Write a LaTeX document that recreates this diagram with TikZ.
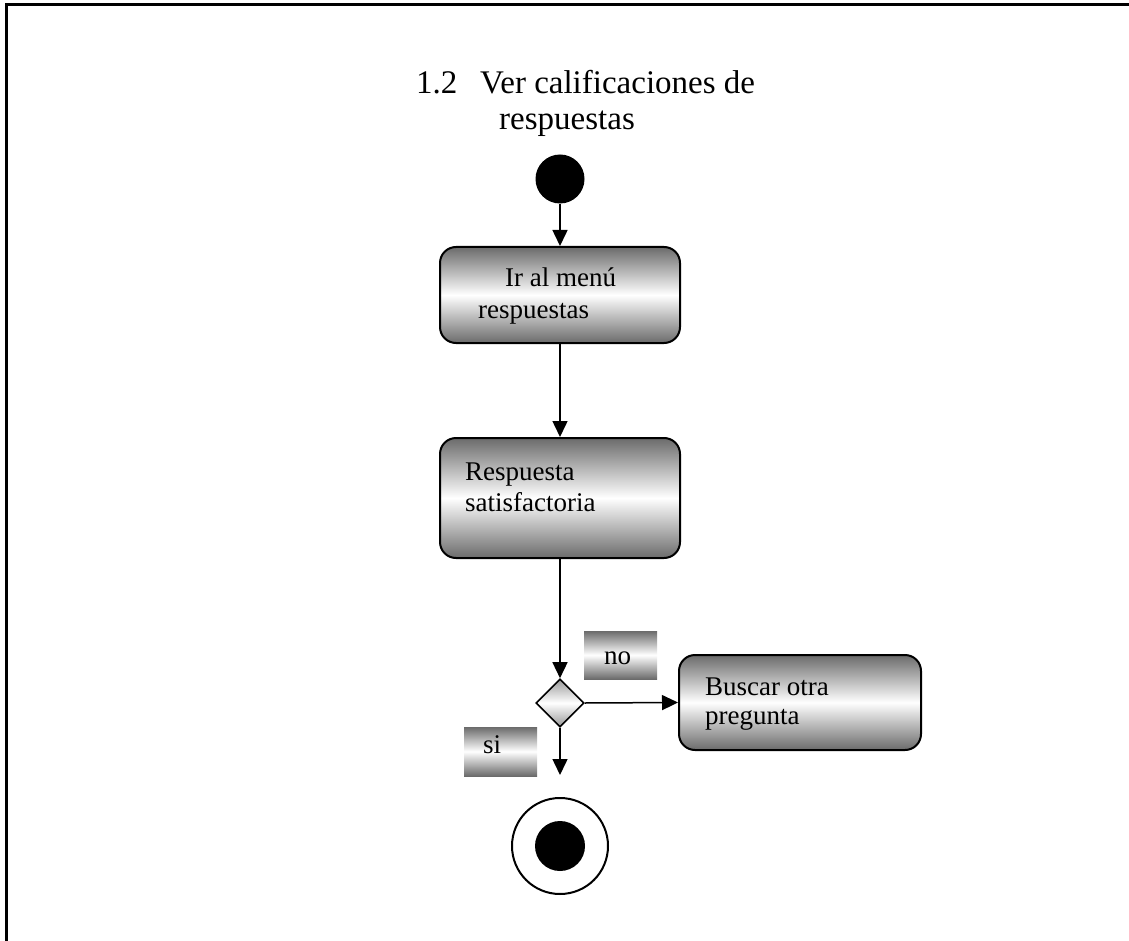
\documentclass[tikz,border=0pt]{standalone}
\usepackage{fontspec}
\setmainfont{Liberation Serif}
\usetikzlibrary{arrows.meta,shapes.geometric}
\begin{document}
\begin{tikzpicture}[x=1pt,y=-1pt,
  act/.style={rectangle, draw=black, line width=2pt, rounded corners=16pt,
    top color=black!58, bottom color=black!58, middle color=white, inner sep=0pt},
  tag/.style={rectangle, inner sep=0pt, top color=black!58, bottom color=black!58, middle color=white},
  dec/.style={diamond, draw=black, line width=1.6pt, inner sep=0pt, aspect=1,
    minimum width=48pt, minimum height=48pt, top color=black!40, bottom color=black!40, middle color=white},
  txt/.style={anchor=base west, inner sep=0pt, font=\fontsize{27}{30}\selectfont},
  ttl/.style={anchor=base west, inner sep=0pt, font=\fontsize{33}{36}\selectfont},
  conn/.style={line width=1.5pt, -{Triangle[length=16pt,width=15pt]}}
]
\useasboundingbox (0,0) rectangle (1129,941);
% frame
\draw[line width=3pt] (6.5,941) -- (6.5,5) -- (1129,5);
% title
\node[ttl] (ttla) at (416,94) {1.2};
\node[ttl] (ttlb) at (480,94) {Ver calificaciones de};
\node[ttl] (ttlc) at (499,130) {respuestas};
% start
\node[circle, fill=black, minimum size=49pt, inner sep=0pt] (start) at (560,179) {};
% activities
\node[act, minimum width=240pt, minimum height=96pt] (ir) at (560,295) {};
\node[act, minimum width=240pt, minimum height=120pt] (resp) at (560,498) {};
\node[act, minimum width=242pt, minimum height=95pt] (buscar) at (800,702.5) {};
\node[dec] (d) at (560,703) {};
% tags
\node[tag, minimum width=73pt, minimum height=48pt] (notag) at (620.5,655) {};
\node[tag, minimum width=73pt, minimum height=49pt] (sitag) at (500.5,751.5) {};
% texts
\node[txt] (t1a) at (505,286) {Ir al menú};
\node[txt] (t1b) at (478,318) {respuestas};
\node[txt] (t2a) at (465,480) {Respuesta};
\node[txt] (t2b) at (465,511) {satisfactoria};
\node[txt] (t3a) at (705,695) {Buscar otra};
\node[txt] (t3b) at (705,724) {pregunta};
\node[txt] (tno) at (604,664) {no};
\node[txt] (tsi) at (483,753) {si};
% end
\node[circle, draw=black, line width=2pt, minimum size=96pt, inner sep=0pt] (endo) at (560,846) {};
\node[circle, fill=black, minimum size=50pt, inner sep=0pt] (endi) at (560,846) {};
\coordinate (stop) at (560,775);
% connectors
\draw[conn] (start) -- (ir);
\draw[conn] (ir) -- (resp);
\draw[conn] (resp) -- (d);
\draw[conn] (d.east) -- (buscar.west);
\draw[conn] (d.south) -- (stop);
\end{tikzpicture}
\end{document}
